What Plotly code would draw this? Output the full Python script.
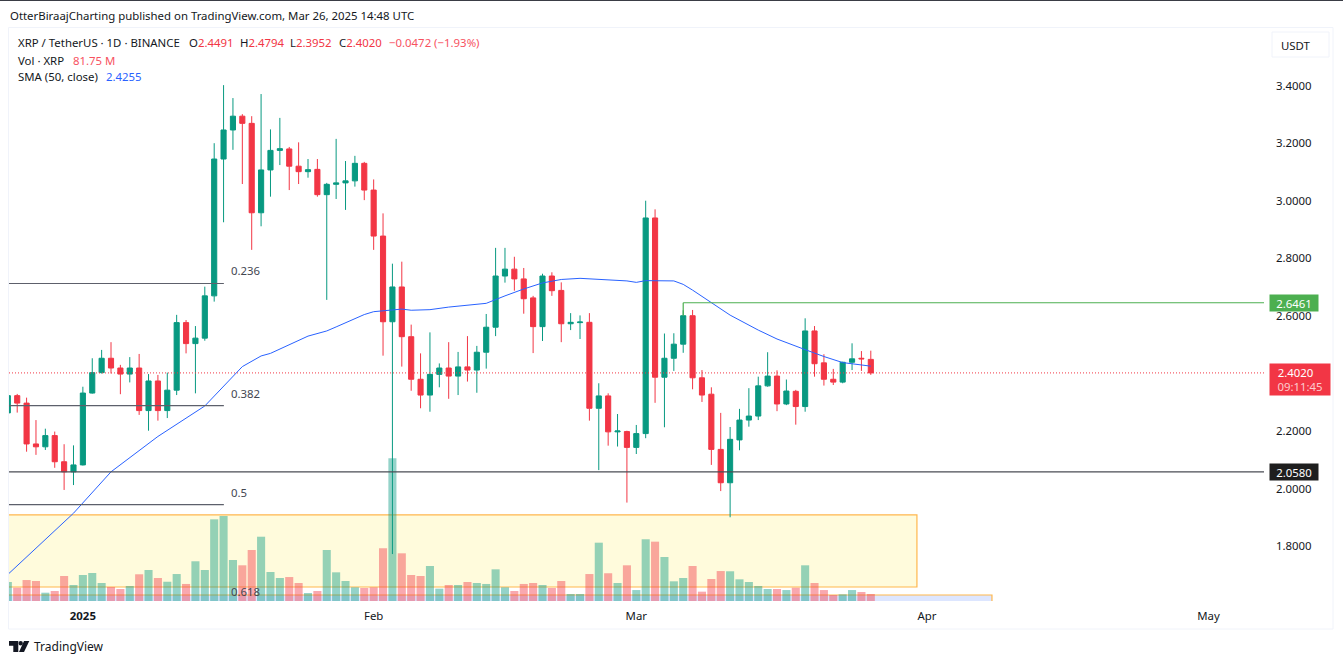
import pandas as pd
import plotly.graph_objects as go

dates = pd.date_range("2024-12-24", "2025-03-26", freq="D")

opens = [2.263,2.323,2.297,2.155,2.145,2.184,2.093,2.058,2.082,2.332,2.403,2.453,2.419,2.398,2.419,2.271,2.374,2.271,2.342,2.577,2.504,2.523,2.670,3.146,3.247,3.295,3.270,2.959,3.108,3.176,3.181,3.121,3.102,3.110,3.022,3.058,3.063,3.070,3.131,3.038,2.878,2.580,2.701,2.528,2.380,2.325,2.397,2.419,2.391,2.423,2.412,2.474,2.561,2.739,2.763,2.729,2.663,2.563,2.739,2.689,2.573,2.577,2.578,2.279,2.322,2.197,2.198,2.143,2.191,2.941,2.387,2.453,2.502,2.601,2.385,2.328,2.136,2.020,2.169,2.238,2.252,2.357,2.391,2.294,2.338,2.285,2.548,2.437,2.380,2.370,2.439,2.453,2.4491]
highs = [2.330,2.329,2.316,2.238,2.208,2.198,2.154,2.150,2.354,2.453,2.482,2.509,2.430,2.457,2.468,2.398,2.395,2.403,2.604,2.586,2.565,2.702,3.201,3.403,3.358,3.302,3.295,3.372,3.249,3.289,3.188,3.204,3.146,3.146,3.063,3.216,3.139,3.157,3.136,3.075,2.957,2.782,2.789,2.570,2.470,2.543,2.435,2.509,2.475,2.530,2.496,2.607,2.837,2.837,2.806,2.767,2.670,2.747,2.752,2.717,2.610,2.602,2.610,2.366,2.331,2.259,2.201,2.221,3.001,2.971,2.539,2.540,2.620,2.621,2.412,2.352,2.263,2.214,2.277,2.349,2.389,2.474,2.411,2.379,2.343,2.592,2.565,2.467,2.416,2.441,2.505,2.478,2.4794]
lows = [2.250,2.264,2.128,2.117,2.134,2.072,1.995,2.012,2.080,2.330,2.400,2.400,2.328,2.369,2.256,2.201,2.236,2.245,2.325,2.470,2.331,2.514,2.650,2.926,3.178,3.059,2.830,2.912,3.015,3.125,3.038,3.059,3.081,3.015,2.656,3.007,2.969,3.050,3.003,2.830,2.462,1.772,2.424,2.340,2.279,2.267,2.352,2.312,2.325,2.372,2.333,2.417,2.530,2.716,2.688,2.608,2.471,2.513,2.670,2.509,2.551,2.520,2.236,2.064,2.149,2.146,1.951,2.120,2.175,2.298,2.213,2.409,2.472,2.345,2.301,2.082,1.991,1.900,2.133,2.215,2.238,2.354,2.269,2.290,2.222,2.267,2.389,2.358,2.360,2.366,2.412,2.409,2.3952]
closes = [2.323,2.297,2.155,2.145,2.184,2.093,2.058,2.082,2.332,2.403,2.453,2.419,2.398,2.419,2.271,2.374,2.271,2.342,2.577,2.504,2.523,2.670,3.146,3.247,3.295,3.270,2.959,3.108,3.176,3.182,3.121,3.102,3.109,3.022,3.058,3.063,3.070,3.131,3.038,2.878,2.580,2.701,2.528,2.380,2.325,2.397,2.419,2.391,2.423,2.412,2.474,2.561,2.739,2.763,2.729,2.660,2.563,2.739,2.688,2.573,2.578,2.579,2.279,2.322,2.197,2.200,2.143,2.191,2.941,2.387,2.453,2.502,2.601,2.385,2.325,2.136,2.020,2.171,2.238,2.252,2.357,2.391,2.294,2.339,2.285,2.548,2.434,2.380,2.370,2.439,2.451,2.451,2.4020]
volumes_m = [222,155,245,234,97,117,292,187,304,327,210,164,140,175,312,362,269,225,315,199,464,362,954,993,479,417,596,751,339,269,280,210,93,117,596,335,234,160,152,160,616,1667,557,304,292,409,144,187,187,222,210,199,370,160,117,199,210,187,152,234,82,82,315,681,324,210,417,128,721,693,514,230,269,409,109,257,350,347,253,222,175,140,140,128,155,417,210,128,70,78,128,105,81.75]

sma_dates = ["2024-12-24","2024-12-31","2025-01-04","2025-01-06","2025-01-09","2025-01-14","2025-01-18","2025-01-20","2025-01-21","2025-01-25","2025-01-27","2025-01-28","2025-01-31","2025-02-01","2025-02-04","2025-02-05","2025-02-07","2025-02-09","2025-02-11","2025-02-13","2025-02-15","2025-02-17","2025-02-19","2025-02-21","2025-02-23","2025-02-26","2025-02-28","2025-03-01","2025-03-02","2025-03-05","2025-03-06","2025-03-07","2025-03-09","2025-03-11","2025-03-14","2025-03-16","2025-03-19","2025-03-21","2025-03-23","2025-03-24","2025-03-26"]
sma_values = [1.701,1.914,2.058,2.106,2.181,2.287,2.424,2.461,2.470,2.530,2.548,2.562,2.605,2.615,2.624,2.620,2.622,2.631,2.638,2.644,2.670,2.694,2.715,2.727,2.731,2.726,2.722,2.717,2.723,2.722,2.710,2.690,2.645,2.603,2.551,2.520,2.483,2.459,2.438,2.433,2.4255]

price_ticks = [1.8,2.0,2.2,2.6,2.8,3.0,3.2,3.4]
month_ticks = ["2025-01-01","2025-02-01","2025-03-01","2025-04-01","2025-05-01"]
month_text = ["<b>2025</b>","Feb","Mar","Apr","May"]

fib_levels = [2.713, 2.288, 1.944]
fib_names = ["0.236", "0.382", "0.5", "0.618"]
fib_label_prices = [2.758, 2.331, 1.986, 1.642]
fib_end = "2025-01-16 00:45"
support = 2.0580
last_close = 2.4020
resistance = 2.6461
resistance_start = "2025-03-06"
resistance_base = 2.601
zone1 = ("2024-12-20", "2025-03-30 22:00", 1.6574, 1.908)
zone2 = ("2024-12-20", "2025-04-07 22:00", 1.6, 1.6296)

UP, DOWN = "#089981", "#F23645"
TXT = "#131722"
FONT = "Noto Sans"
FS = 11.4
RANGE = ["2024-12-24 03:00", "2025-05-06 22:00"]
W, H, L, R, T, B = 1343, 661, 9, 79, 28, 60
PW, PH = W - L - R, H - T - B

def px(x):
    return (x - L) / PW

def py(y):
    return 1 - (y - T) / PH

def paper_path(points, close=True):
    s = "M " + " L ".join(f"{px(a)},{py(b)}" for a, b in points)
    return s + (" Z" if close else "")

fig = go.Figure()
vol_colors = ["rgba(8,153,129,0.43)" if c >= o else "rgba(242,54,69,0.43)" for o, c in zip(opens, closes)]
fig.add_trace(go.Bar(x=dates, y=volumes_m, yaxis="y2", marker=dict(color=vol_colors, line_width=0), width=86400000 * 0.86))
fig.add_trace(go.Candlestick(
    x=dates, open=opens, high=highs, low=lows, close=closes, whiskerwidth=0,
    increasing=dict(line=dict(color=UP, width=1), fillcolor=UP),
    decreasing=dict(line=dict(color=DOWN, width=1), fillcolor=DOWN),
))
fig.add_trace(go.Scatter(x=sma_dates, y=sma_values, mode="lines", line=dict(color="#2962FF", width=1)))

shapes = []
shapes.append(dict(type="rect", xref="paper", yref="paper", x0=px(8.5), x1=px(1333), y0=py(629), y1=py(27.5),
                   line=dict(color="#F0F3FA", width=1), layer="below"))
shapes.append(dict(type="rect", xref="paper", yref="paper", x0=px(1272), x1=px(1329), y0=py(57), y1=py(32),
                   line=dict(color="#F0F3FA", width=1), layer="below"))
for z, fill in [(zone1, "rgba(255,235,59,0.18)"), (zone2, "rgba(41,98,255,0.16)")]:
    shapes.append(dict(type="rect", x0=z[0], x1=z[1], y0=z[2], y1=z[3], xref="x", yref="y",
                       line=dict(color="#FFB74D", width=1.2), fillcolor=fill, layer="below"))
for level in fib_levels:
    shapes.append(dict(type="line", xref="x", yref="y", x0="2024-12-20", x1=fib_end, y0=level, y1=level,
                       line=dict(color="#5D606B", width=1.2), layer="above"))
shapes.append(dict(type="line", xref="paper", yref="y", x0=0, x1=1, y0=support, y1=support,
                   line=dict(color="#4A4C54", width=1.2), layer="above"))
shapes.append(dict(type="line", xref="paper", yref="y", x0=0, x1=1, y0=last_close, y1=last_close,
                   line=dict(color=DOWN, width=1, dash="1px,2px"), layer="above"))
shapes.append(dict(type="line", xref="x", yref="y", x0=resistance_start, x1=resistance_start, y0=resistance_base, y1=resistance,
                   line=dict(color="#4CAF50", width=1.2), layer="above"))
t0, t1 = pd.Timestamp(RANGE[0]), pd.Timestamp(RANGE[1])
shapes.append(dict(type="line", xref="x domain", yref="y", x0=(pd.Timestamp(resistance_start) - t0) / (t1 - t0), x1=1,
                   y0=resistance, y1=resistance, line=dict(color="#4CAF50", width=1.2), layer="above"))
# TradingView mark
LOGO = "#131722"
for poly in ([(9, 641), (18.3, 641), (18.3, 652), (13.3, 652), (13.3, 645.7), (9, 645.7)],
             [(24, 641), (29.3, 641), (24, 652), (19, 652)]):
    shapes.append(dict(type="path", xref="paper", yref="paper", path=paper_path(poly), fillcolor=LOGO, line_width=0))
shapes.append(dict(type="circle", xref="paper", yref="paper", x0=px(18.5), x1=px(22.9), y0=py(645.5), y1=py(641.1),
                   fillcolor=LOGO, line_width=0))
shapes.append(dict(type="line", xref="paper", yref="paper", x0=px(0), x1=px(1343), y0=py(0.5), y1=py(0.5),
                   line=dict(color="#3A3D45", width=1)))

ann = []
def note(text, x, y, size=FS, color=TXT, anchor="left", **kw):
    ann.append(dict(text=text, xref="paper", yref="paper", x=px(x - 1), y=py(y), showarrow=False, xanchor=anchor,
                    yanchor="middle", align="left", font=dict(family=FONT, size=size, color=color), **kw))

red = lambda s: f'<span style="color:{DOWN}">{s}</span>'
note("OtterBiraajCharting published on TradingView.com, Mar 26, 2025 14:48 UTC", 9, 16)
note("XRP / TetherUS · 1D · BINANCE", 17, 43)
note("O" + red("2.4491"), 188, 43)
note("H" + red("2.4794"), 238.7, 43)
note("L" + red("2.3952"), 289.3, 43)
note("C" + red("2.4020"), 338, 43)
note("−0.0472 (−1.93%)", 388, 43, color="#F7525F")
note("Vol · XRP", 17, 60)
note("81.75 M", 72, 60, color="#F7525F")
note("SMA (50, close)", 17, 77)
note("2.4255", 105, 77, color="#2962FF")
note("USDT", 1280, 45)
for name, p in zip(fib_names, fib_label_prices):
    ann.append(dict(text=name, xref="x", yref="y", x=fib_end, y=p, xshift=5, showarrow=False, xanchor="left",
                    font=dict(family=FONT, size=FS, color="#434651")))
for val, bg in [(resistance, "#4CAF50"), (support, "#1E1E1E")]:
    ann.append(dict(text=f"{val:.4f}", xref="paper", yref="y", x=px(1268.5), y=val, showarrow=False, xanchor="left",
                    width=46, height=14, bgcolor=bg, font=dict(family=FONT, size=FS, color="#FFFFFF"), align="center"))
ann.append(dict(text=f"{last_close:.4f}\u00a0\u00a0\u00a0<br><span style='color:#FCCBCD'>09:11:45</span>", xref="paper", yref="y",
                x=px(1268.5), y=last_close - 0.023, showarrow=False, xanchor="left", width=58, height=29, bgcolor=DOWN,
                font=dict(family=FONT, size=FS, color="#FFFFFF"), align="center"))
note("TradingView", 32.5, 647, size=12, color="#131722")

fig.update_layout(
    width=W, height=H, margin=dict(l=L, r=R, t=T, b=B), paper_bgcolor="white", plot_bgcolor="white",
    showlegend=False, shapes=shapes, annotations=ann, bargap=0.14, boxgap=0.22,
    font=dict(family=FONT, size=FS, color=TXT),
    xaxis=dict(type="date", range=RANGE, rangeslider=dict(visible=False),
               tickmode="array", tickvals=month_ticks, ticktext=month_text, showgrid=False, zeroline=False,
               showline=False, ticks="", ticklabelstandoff=7, tickfont=dict(family=FONT, size=FS, color=TXT)),
    yaxis=dict(range=[1.6087, 3.6017], side="right", tickmode="array", tickvals=price_ticks, tickformat=".4f",
               showgrid=False, zeroline=False, showline=False, ticks="", ticklabelstandoff=11,
               tickfont=dict(family=FONT, size=FS, color=TXT)),
    yaxis2=dict(range=[0, 6693], overlaying="y", visible=False, fixedrange=True),
)
fig.write_html("out.html", config={"displayModeBar": False},
               post_script="document.body.style.margin='0';document.body.style.overflow='hidden';")
